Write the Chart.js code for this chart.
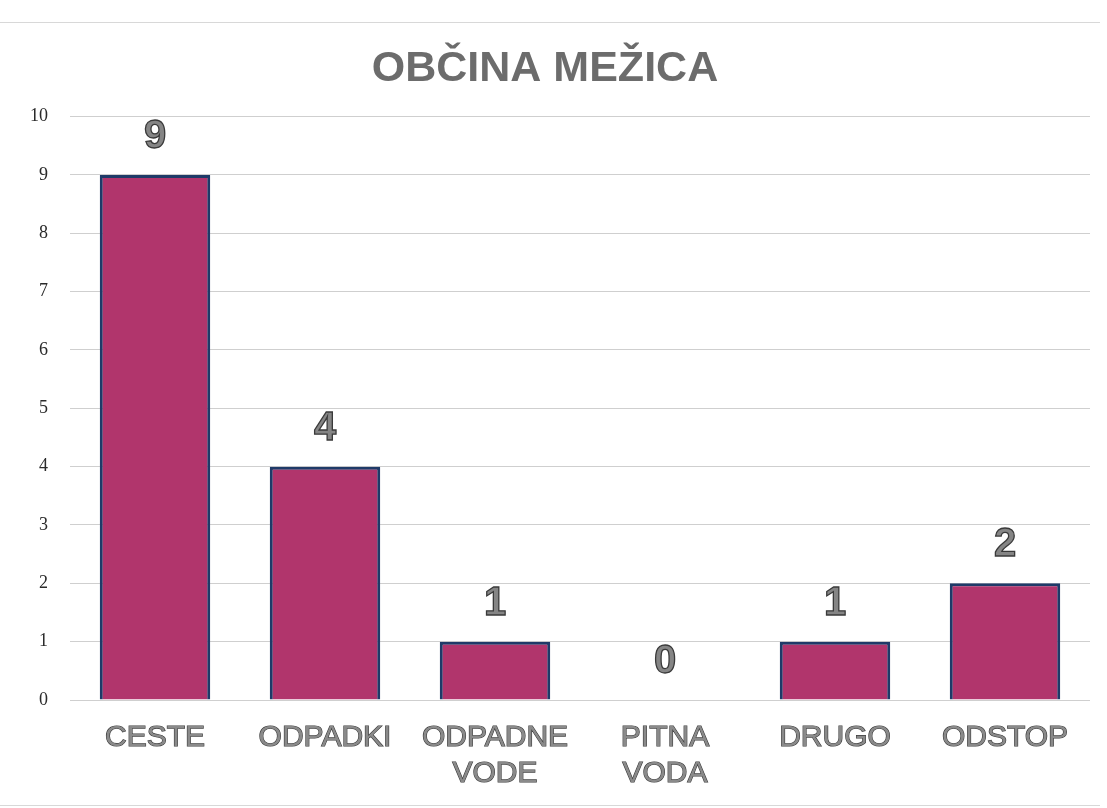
<!DOCTYPE html>
<html>
<head>
<meta charset="utf-8">
<script src="https://cdn.jsdelivr.net/npm/chart.js@4.4.1/dist/chart.umd.min.js"></script>
<style>
  html, body { margin: 0; padding: 0; background: #ffffff; }
  #wrap { position: relative; width: 1107px; height: 808px; }
  #frame { position: absolute; left: 0; top: 22px; width: 1100px; height: 782px; border-top: 1px solid #d8d8d8; border-bottom: 1px solid #d8d8d8; pointer-events: none; }
</style>
</head>
<body>
<div id="wrap">
  <canvas id="c" width="1107" height="808"></canvas>
  <div id="frame"></div>
</div>
<script>
const chartTitle = 'OBČINA MEŽICA';
const categories = ['CESTE', 'ODPADKI', ['ODPADNE', 'VODE'], ['PITNA', 'VODA'], 'DRUGO', 'ODSTOP'];
const values = [9, 4, 1, 0, 1, 2];
const yTicks = [0, 1, 2, 3, 4, 5, 6, 7, 8, 9, 10];

const valueLabels = {
  id: 'valueLabels',
  afterDatasetsDraw(chart) {
    const ctx = chart.ctx;
    const meta = chart.getDatasetMeta(0);
    ctx.save();
    ctx.font = 'bold 40px "Liberation Sans", Arial, sans-serif';
    ctx.textAlign = 'center';
    ctx.textBaseline = 'alphabetic';
    ctx.fillStyle = '#858585';
    ctx.strokeStyle = '#3a3a3a';
    ctx.lineWidth = 1.3;
    meta.data.forEach((bar, i) => {
      const txt = String(chart.data.datasets[0].data[i]);
      const y = bar.y - 27;
      ctx.fillText(txt, bar.x, y);
      ctx.strokeText(txt, bar.x, y);
    });
    ctx.restore();
  }
};

new Chart(document.getElementById('c'), {
  type: 'bar',
  data: {
    labels: categories,
    datasets: [{
      data: values,
      backgroundColor: '#b1356c',
      borderColor: '#1f3a68',
      borderWidth: 3,
      categoryPercentage: 1.0,
      barPercentage: 0.65
    }]
  },
  options: {
    responsive: false,
    animation: false,
    layout: { padding: { top: 28, right: 17, bottom: 8, left: 0 } },
    plugins: {
      legend: { display: false },
      tooltip: { enabled: false },
      title: {
        display: true,
        text: chartTitle,
        color: '#6c6c6c',
        font: { family: '"Liberation Sans", Arial, sans-serif', size: 43, weight: 'bold' },
        padding: { top: 15, bottom: 22 }
      }
    },
    scales: {
      x: {
        grid: { display: false, drawBorder: false },
        border: { display: false },
        ticks: {
          color: '#8a8a8a',
          textStrokeColor: '#3a3a3a',
          textStrokeWidth: 1.2,
          font: { family: '"Liberation Sans", Arial, sans-serif', size: 30 },
          padding: 12,
          maxRotation: 0,
          autoSkip: false
        },
        afterFit(scale) { scale.height = 100; }
      },
      y: {
        min: 0,
        max: 10,
        afterBuildTicks(scale) { scale.ticks = yTicks.map(v => ({ value: v })); },
        grid: { color: '#cfcfcf', lineWidth: 1, drawTicks: false },
        border: { display: false },
        ticks: {
          color: '#2a2a2a',
          font: { family: '"Liberation Serif", "DejaVu Serif", serif', size: 18 },
          padding: 22,
          stepSize: 1
        },
        afterFit(scale) { scale.width = 70; }
      }
    }
  },
  plugins: [valueLabels]
});
</script>
</body>
</html>
